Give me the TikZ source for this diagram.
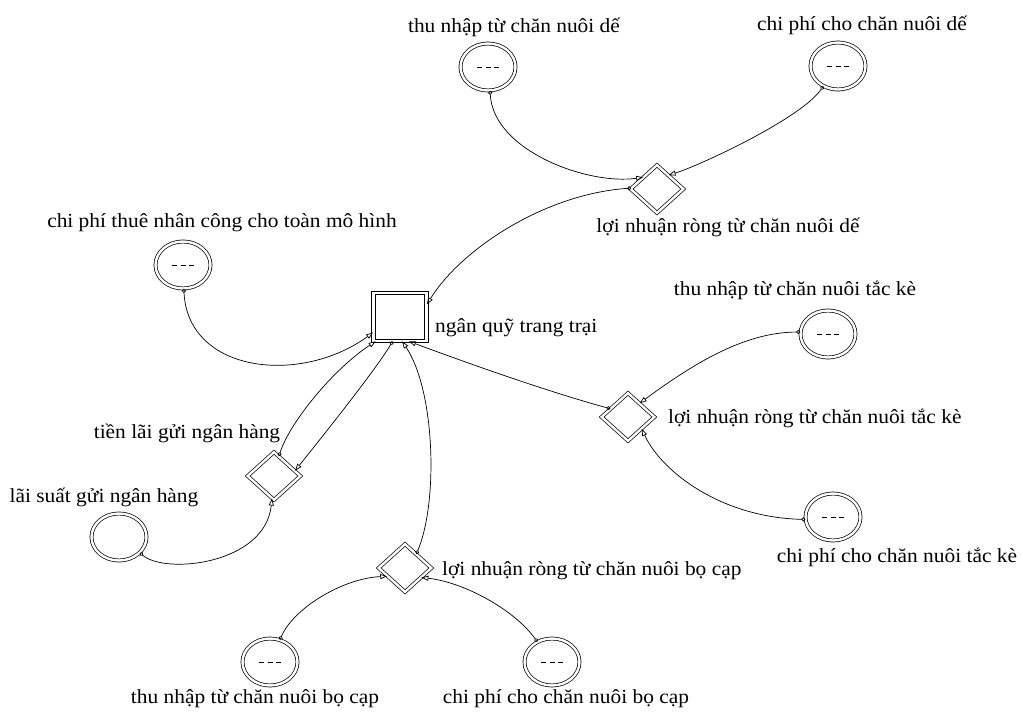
\documentclass[tikz,border=0pt]{standalone}
\usepackage{fontspec}
\setmainfont{Liberation Serif}[FakeStretch=1.07]
\usetikzlibrary{shapes.geometric,arrows.meta}
\begin{document}
\begin{tikzpicture}[x=1pt,y=-1pt,
  conv/.style={ellipse, draw, double, double distance=2.4pt, line width=0.7pt, minimum width=55pt, minimum height=47pt, inner sep=0pt},
  aux/.style={diamond, draw, double, double distance=2.4pt, line width=0.7pt, minimum width=53pt, minimum height=48pt, inner sep=0pt},
  stockbox/.style={rectangle, draw, double, double distance=2.8pt, line width=0.7pt, minimum width=53pt, minimum height=48pt, inner sep=0pt},
  lbl/.style={font=\fontsize{20}{24}\selectfont, inner sep=0pt, anchor=base},
  link/.style={line width=0.7pt, {Circle[open,length=4pt]}-{Triangle[open,length=7pt,width=5pt]}},
  dashmark/.style={line width=0.7pt, dash pattern=on 5pt off 3.5pt},
]
\fill[white] (0,0) rectangle (1023,715);
\useasboundingbox (0,0) rectangle (1023,715);

% stock
\node[stockbox] (sq) at (400,317) {};
\node[lbl, anchor=base west] (lSq) at (435,332) {ngân quỹ trang trại};

% converters
\node[conv] (cTNde) at (488,67) {};
\node[conv] (cCPde) at (838,66) {};
\node[conv] (cThue) at (183,265) {};
\node[conv] (cTNtk) at (828,334) {};
\node[conv] (cCPtk) at (833,517) {};
\node[conv] (cLS) at (119,537) {};
\node[conv] (cTNbc) at (270,662) {};
\node[conv] (cCPbc) at (552,662) {};

\foreach \c in {cTNde,cCPde,cThue,cTNtk,cCPtk,cTNbc,cCPbc}{
  \draw[dashmark] ([xshift=-11pt]\c.center) -- ([xshift=11pt]\c.center);
}

% auxiliaries
\node[aux] (dDe) at (657,189) {};
\node[aux] (dTk) at (628,417) {};
\node[aux] (dLai) at (274,476) {};
\node[aux] (dBc) at (405,568) {};

% labels
\node[lbl] (lTNde) at (514,32) {thu nhập từ chăn nuôi dế};
\node[lbl] (lCPde) at (862,30) {chi phí cho chăn nuôi dế};
\node[lbl] (lDe) at (728,232) {lợi nhuận ròng từ chăn nuôi dế};
\node[lbl] (lThue) at (222,227) {chi phí thuê nhân công cho toàn mô hình};
\node[lbl] (lTNtk) at (795,295) {thu nhập từ chăn nuôi tắc kè};
\node[lbl, anchor=base west] (lTk) at (668,423) {lợi nhuận ròng từ chăn nuôi tắc kè};
\node[lbl] (lCPtk) at (897,562) {chi phí cho chăn nuôi tắc kè};
\node[lbl] (lLai) at (187,438) {tiền lãi gửi ngân hàng};
\node[lbl] (lLS) at (104,502) {lãi suất gửi ngân hàng};
\node[lbl, anchor=base west] (lBc) at (442,575) {lợi nhuận ròng từ chăn nuôi bọ cạp};
\node[lbl] (lTNbc) at (255,703) {thu nhập từ chăn nuôi bọ cạp};
\node[lbl] (lCPbc) at (566,703) {chi phí cho chăn nuôi bọ cạp};

% connectors
\draw[link] (cTNde.-85) .. controls +(3,60) and +(-55,8) .. (dDe.140);
\draw[link] (cCPde.234) .. controls +(-22,32) and +(32,-10) .. (dDe.50);
\draw[link] (dDe.178) .. controls +(-87,6) and +(34,-55) .. (sq.25);
\draw[link] (cThue.-88) .. controls +(4,84) and +(-73,53) .. (sq.210);
\draw[link] (dTk.155) .. controls +(-65,-18) and +(65,24) .. (sq.-70);
\draw[link] (cTNtk.176) .. controls +(-59,0) and +(48,-35) .. (dTk.50);
\draw[link] (cCPtk.185) .. controls +(-84,-2) and +(20,43) .. (dTk.-41);
\draw[link] (dLai.76) .. controls +(10,-32) and +(-44,29) .. (sq.-135);
\draw[link] (sq.-107) .. controls +(-17,29) and +(23,-29) .. (dLai.14);
\draw[link] (cLS.-37) .. controls +(25,22) and +(-7,66) .. (dLai.-95);
\draw[link] (dBc.51) .. controls +(22,-52) and +(33,49) .. (sq.-85);
\draw[link] (cTNbc.66) .. controls +(14,-32) and +(-44,2) .. (dBc.205);
\draw[link] (cCPbc.126) .. controls +(-22,-31) and +(44,5) .. (dBc.-30);
\end{tikzpicture}
\end{document}
